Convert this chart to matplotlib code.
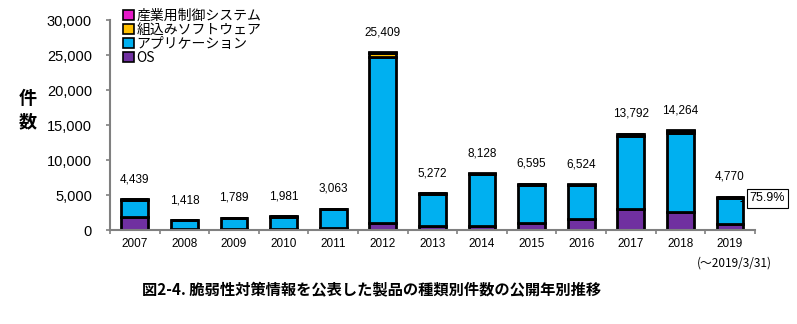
import numpy as np
import matplotlib.pyplot as plt

plt.rcParams['font.family'] = ['Liberation Sans', 'Noto Sans CJK JP', 'DejaVu Sans']

# 公開年別の件数 (種類別)
years = ['2007', '2008', '2009', '2010', '2011', '2012', '2013',
         '2014', '2015', '2016', '2017', '2018', '2019']
totals = [4439, 1418, 1789, 1981, 3063, 25409, 5272,
          8128, 6595, 6524, 13792, 14264, 4770]
os_cnt = [1900, 150, 200, 150, 350, 950, 570,
          600, 1040, 1530, 2950, 2530, 900]
embedded = [60, 30, 30, 40, 60, 650, 80, 100, 120, 100, 250, 300, 200]
industrial = [20, 10, 20, 20, 30, 100, 30, 50, 60, 50, 100, 80, 50]
app_cnt = [t - o - e - i for t, o, e, i in zip(totals, os_cnt, embedded, industrial)]
app_share_2019 = '75.9%'

names = ['OS', 'アプリケーション', '組込みソフトウェア', '産業用制御システム']
colors = ['#7030A0', '#00B0F0', '#FFC000', '#E619C8']

fig = plt.figure(figsize=(7.97, 3.24), dpi=100)
ax = fig.add_axes([0.138, 0.29, 0.809, 0.648])

x = np.arange(len(years))
bottom = np.zeros(len(years))
handles = []
for vals, name, c in zip([os_cnt, app_cnt, embedded, industrial], names, colors):
    b = ax.bar(x, vals, width=0.54, bottom=bottom, color=c,
               edgecolor='black', linewidth=2.0, label=name)
    handles.append(b)
    bottom += np.array(vals)

for xi, t in zip(x, totals):
    ax.annotate(f'{t:,}', (xi, t), xytext=(0, 10), textcoords='offset points',
                ha='center', va='bottom', fontsize=8.5)

# アプリケーションの割合 (2019)
ax.annotate(app_share_2019, xy=(x[-1] + 0.22, totals[-1] - 700),
            xytext=(x[-1] + 0.4, totals[-1] - 250), textcoords='data',
            ha='left', va='center', fontsize=9,
            bbox=dict(boxstyle='square,pad=0.25', fc='white', ec='black', lw=0.8),
            arrowprops=dict(arrowstyle='-', color='black', lw=0.8), zorder=5,
            annotation_clip=False)

ax.set_xlim(-0.46, 12.5)
ax.set_ylim(0, 30000)
ax.set_yticks(np.arange(0, 30001, 5000))
ax.yaxis.set_major_formatter(plt.FuncFormatter(lambda v, p: f'{int(v):,}'))
ax.set_xticks(x)
ax.set_xticklabels(years, fontsize=8.5)
ax.set_xticks(np.arange(-0.5, 12.6, 1), minor=True)
ax.tick_params(axis='x', which='major', length=0, pad=6)
ax.tick_params(axis='x', which='minor', length=3, color='#808080', width=1.2)
ax.tick_params(axis='y', labelsize=10.5, length=3, color='#808080', width=1.2, pad=10)
for s in ['top', 'right']:
    ax.spines[s].set_visible(False)
for s in ['left', 'bottom']:
    ax.spines[s].set_color('#808080')
    ax.spines[s].set_linewidth(1.5)

fig.text(0.035, 0.66, '件\n数', ha='center', va='center', fontsize=13,
         fontweight='bold', linespacing=1.3, family=['Noto Sans CJK JP'])

leg = ax.legend(handles[::-1], names[::-1], loc='upper left',
                bbox_to_anchor=(0.012, 1.08), frameon=False,
                handlelength=0.75, handleheight=0.75, handletextpad=0.2,
                labelspacing=0.0, borderaxespad=0,
                prop={'family': ['Noto Sans CJK JP'], 'size': 10})
for h in leg.legend_handles:
    h.set_linewidth(1.2)

fig.text(0.922, 0.188, '(～2019/3/31)', ha='center', va='center', fontsize=8.5,
         family=['Noto Sans CJK JP'])
fig.text(0.466, 0.105, '図2-4. 脆弱性対策情報を公表した製品の種類別件数の公開年別推移',
         ha='center', va='center', fontsize=11, fontweight='bold',
         family=['Noto Sans CJK JP'])

fig.savefig('out.png', dpi=100)
